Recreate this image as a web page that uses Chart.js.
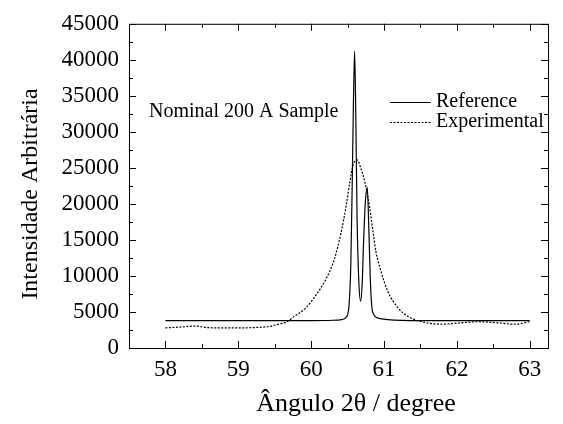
<!DOCTYPE html>
<html>
<head>
<meta charset="utf-8">
<script src="https://cdn.jsdelivr.net/npm/chart.js@4/dist/chart.umd.min.js"></script>
<style>
    html, body { margin: 0; padding: 0; background: #fff; }
    #wrap { width: 563px; height: 424px; }
</style>
</head>
<body>
<div id="wrap"><canvas id="xrd-chart"></canvas></div>
<script>
// --- DATA ---
const refAngle = [58.0, 59.0, 60.0, 60.3, 60.42, 60.48, 60.52, 60.545, 60.565, 60.58, 60.596, 60.61, 60.63, 60.655, 60.68, 60.70, 60.72, 60.745, 60.77, 60.79, 60.81, 60.83, 60.86, 60.92, 61.05, 61.5, 62.0, 63.0];
const refIntensity = [3800, 3800, 3800, 3850, 3950, 4250, 6000, 12000, 24000, 34000, 41200, 34000, 18000, 9000, 6500, 9000, 15000, 20500, 22300, 17000, 10000, 6000, 4600, 4150, 3950, 3800, 3800, 3800];

const expAngle = [58.0, 58.2, 58.42, 58.55, 58.75, 59.0, 59.25, 59.43, 59.57, 59.66, 59.75, 59.93, 60.07, 60.21, 60.32, 60.41, 60.48, 60.53, 60.57, 60.63, 60.68, 60.73, 60.80, 60.85, 60.89, 60.96, 61.05, 61.19, 61.35, 61.56, 61.8, 62.0, 62.3, 62.55, 62.8, 63.0];
const expIntensity = [2800, 2900, 3050, 2850, 2800, 2800, 2850, 3000, 3350, 3600, 4250, 5600, 7400, 9700, 12400, 16000, 19700, 23000, 25200, 26100, 25000, 23300, 19700, 16000, 13300, 10600, 7900, 5600, 4250, 3550, 3300, 3450, 3650, 3500, 3300, 3650];

const xTicks = [58, 59, 60, 61, 62, 63];
const yTicks = [0, 5000, 10000, 15000, 20000, 25000, 30000, 35000, 40000, 45000];

const seriesLabels = ['Reference', 'Experimental'];
const sampleNote = 'Nominal 200 A Sample';
const xTitle = 'Ângulo 2θ / degree';
const yTitle = 'Intensidade Arbitrária';

const serif = '"Liberation Serif", "DejaVu Serif", serif';

const zip = (xs, ys) => xs.map((x, i) => ({ x, y: ys[i] }));

// kotak bingkai + tick ke dalam + legenda + judul sumbu
const framePlugin = {
    id: 'frame',
    afterDraw(chart) {
        const { ctx, chartArea: a, scales } = chart;
        ctx.save();
        ctx.strokeStyle = '#000';
        ctx.lineWidth = 1;
        ctx.strokeRect(a.left + 0.5, a.top + 0.5, a.right - a.left, a.bottom - a.top);

        ctx.beginPath();
        xTicks.forEach((v, i) => {
            const px = Math.round(scales.x.getPixelForValue(v)) + 0.5;
            ctx.moveTo(px, a.bottom); ctx.lineTo(px, a.bottom - 7);
            ctx.moveTo(px, a.top); ctx.lineTo(px, a.top + 7);
            if (i < xTicks.length - 1) {
                const pm = Math.round(scales.x.getPixelForValue(v + 0.5)) + 0.5;
                ctx.moveTo(pm, a.bottom); ctx.lineTo(pm, a.bottom - 4);
                ctx.moveTo(pm, a.top); ctx.lineTo(pm, a.top + 4);
            }
        });
        yTicks.forEach((v, i) => {
            const py = Math.round(scales.y.getPixelForValue(v)) + 0.5;
            ctx.moveTo(a.left, py); ctx.lineTo(a.left + 7, py);
            ctx.moveTo(a.right, py); ctx.lineTo(a.right - 7, py);
            if (i < yTicks.length - 1) {
                const pm = Math.round(scales.y.getPixelForValue(v + 2500)) + 0.5;
                ctx.moveTo(a.left, pm); ctx.lineTo(a.left + 4, pm);
                ctx.moveTo(a.right, pm); ctx.lineTo(a.right - 4, pm);
            }
        });
        ctx.stroke();

        // legenda
        ctx.fillStyle = '#000';
        ctx.font = '20px ' + serif;
        ctx.textBaseline = 'middle';
        ctx.beginPath();
        ctx.moveTo(390, 102.5); ctx.lineTo(431, 102.5);
        ctx.stroke();
        ctx.setLineDash([2, 1.5]);
        ctx.beginPath();
        ctx.moveTo(390, 122.5); ctx.lineTo(431, 122.5);
        ctx.stroke();
        ctx.setLineDash([]);
        ctx.fillText(seriesLabels[0], 436, 102);
        ctx.fillText(seriesLabels[1], 436, 122);

        ctx.fillText(sampleNote, 149, 112);

        // judul sumbu
        ctx.textAlign = 'center';
        ctx.font = '26px ' + serif;
        ctx.fillText(xTitle, 356, 404);
        ctx.translate(31, 194);
        ctx.rotate(-Math.PI / 2);
        ctx.font = '24px ' + serif;
        ctx.fillText(yTitle, 0, 0);
        ctx.restore();
    }
};

new Chart(document.getElementById('xrd-chart'), {
    type: 'line',
    data: {
        datasets: [
            {
                label: seriesLabels[0],
                data: zip(refAngle, refIntensity),
                borderColor: '#000',
                borderWidth: 1.2,
                pointRadius: 0,
                cubicInterpolationMode: 'monotone',
            },
            {
                label: seriesLabels[1],
                data: zip(expAngle, expIntensity),
                borderColor: '#000',
                borderWidth: 1.2,
                borderDash: [2, 1.5],
                pointRadius: 0,
                cubicInterpolationMode: 'monotone',
            }
        ]
    },
    options: {
        responsive: true,
        maintainAspectRatio: false,
        animation: false,
        layout: { padding: { top: 17, right: 15, left: 0, bottom: 0 } },
        plugins: { legend: { display: false }, tooltip: { enabled: false } },
        scales: {
            x: {
                type: 'linear',
                min: 57.5,
                max: 63.25,
                afterBuildTicks: (s) => { s.ticks = xTicks.map(v => ({ value: v })); },
                afterFit: (s) => { s.height = 76; },
                grid: { display: false, drawTicks: false },
                border: { display: false },
                ticks: { color: '#000', font: { family: serif, size: 23 }, padding: 8, maxRotation: 0, callback: (v) => String(v) },
                title: { display: false }
            },
            y: {
                type: 'linear',
                min: 0,
                max: 45000,
                afterBuildTicks: (s) => { s.ticks = yTicks.map(v => ({ value: v })); },
                afterFit: (s) => { s.width = 129; },
                grid: { display: false, drawTicks: false },
                border: { display: false },
                ticks: { color: '#000', font: { family: serif, size: 23 }, padding: 10, autoSkip: false, callback: (v) => String(v) },
                title: { display: false }
            }
        }
    },
    plugins: [framePlugin]
});
</script>
</body>
</html>
